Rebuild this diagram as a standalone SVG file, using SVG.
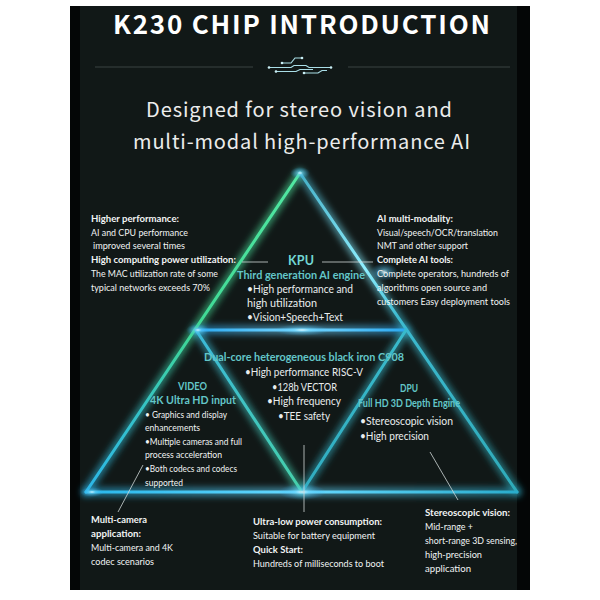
<svg xmlns="http://www.w3.org/2000/svg" width="600" height="600" viewBox="0 0 600 600">
<defs>
<style>
text{font-family:Lato,"Noto Sans","DejaVu Sans",sans-serif;}
.h{font-family:"Noto Sans CJK SC","Noto Sans",sans-serif;}
.s{font-size:10px;fill:#f2f4f4;}
.b{font-weight:bold;}
.w{font-size:10.5px;fill:#e9eded;}
.tl{font-weight:bold;fill:#63c6c8;font-size:10.5px;}
.lead{stroke:#d0d8d8;stroke-width:0.8;fill:none;}
.rule{stroke:#3b4242;stroke-width:1.2;}
.halo{fill:none;stroke-width:9;stroke-linecap:round;opacity:0.55;}
.core{fill:none;stroke-width:3;stroke-linecap:round;}
.trace{fill:none;stroke:#a9dde6;stroke-width:1.2;}
.dot{fill:#c9eef5;}
</style>
<filter id="blur" filterUnits="userSpaceOnUse" x="0" y="0" width="600" height="600">
<feGaussianBlur stdDeviation="3"/>
</filter>
<filter id="soft" filterUnits="userSpaceOnUse" x="0" y="0" width="600" height="600">
<feGaussianBlur stdDeviation="0.5"/>
</filter>
<linearGradient id="gL" gradientUnits="userSpaceOnUse" x1="300" y1="173" x2="86" y2="492">
<stop offset="0" stop-color="#52e8a2"/><stop offset="0.5" stop-color="#3fd894"/><stop offset="0.75" stop-color="#35c2c8"/><stop offset="1" stop-color="#2cb6e8"/>
</linearGradient>
<linearGradient id="gR" gradientUnits="userSpaceOnUse" x1="300" y1="173" x2="517" y2="492">
<stop offset="0" stop-color="#43aec6"/><stop offset="0.3" stop-color="#8fefff"/><stop offset="0.45" stop-color="#3dbad0"/><stop offset="1" stop-color="#2eaab8"/>
</linearGradient>
<linearGradient id="gH" gradientUnits="userSpaceOnUse" x1="196" y1="0" x2="406" y2="0">
<stop offset="0" stop-color="#2aa8f0"/><stop offset="0.5" stop-color="#7ad9ff"/><stop offset="1" stop-color="#2aa8f0"/>
</linearGradient>
<linearGradient id="gB" gradientUnits="userSpaceOnUse" x1="86" y1="0" x2="517" y2="0">
<stop offset="0" stop-color="#28b6ea"/><stop offset="0.5" stop-color="#66d9ff"/><stop offset="1" stop-color="#2aaccc"/>
</linearGradient>
<linearGradient id="gIL" gradientUnits="userSpaceOnUse" x1="196" y1="330" x2="302" y2="492">
<stop offset="0" stop-color="#3ab8da"/><stop offset="1" stop-color="#46d0a8"/>
</linearGradient>
<linearGradient id="gIR" gradientUnits="userSpaceOnUse" x1="406" y1="330" x2="302" y2="492">
<stop offset="0" stop-color="#39bacb"/><stop offset="1" stop-color="#30acc0"/>
</linearGradient>
<radialGradient id="flare">
<stop offset="0" stop-color="#e8fbff" stop-opacity="0.9"/><stop offset="0.3" stop-color="#6fd8ff" stop-opacity="0.5"/><stop offset="1" stop-color="#2aa6ea" stop-opacity="0"/>
</radialGradient>
</defs>

<rect x="0" y="0" width="600" height="600" fill="#ffffff"/>
<rect x="70" y="6" width="460" height="584" fill="#040606"/>
<rect x="80" y="6" width="437" height="584" fill="#111817"/>

<g id="title">
<text class="h" x="113" y="34" textLength="377" font-size="26" font-weight="bold" fill="#ffffff">K230 CHIP INTRODUCTION</text>
</g>

<g id="divider">
<line class="rule" x1="95" y1="67" x2="253" y2="67"/>
<line class="rule" x1="348" y1="67" x2="510" y2="67"/>
<path class="trace" d="M282,63 H291 L295,58 H302"/>
<path class="trace" d="M269,67.5 H291 L294,65.5 H306 L309,67.5 H331"/>
<path class="trace" d="M276,71.5 H296 L300,69.5 H313"/>
<path class="trace" d="M304,73 H318 L322,70.5 H327"/>
<circle class="dot" cx="302" cy="58" r="1.3"/>
<circle class="dot" cx="269" cy="67.5" r="1.3"/>
<circle class="dot" cx="331" cy="67.5" r="1.3"/>
<circle class="dot" cx="276" cy="71.5" r="1.3"/>
<circle class="dot" cx="304" cy="73" r="1.3"/>
<circle class="dot" cx="282" cy="63" r="1.3"/>
</g>

<g id="subtitle">
<text class="h" x="146" y="117" textLength="306" font-size="20" fill="#ececec">Designed for stereo vision and</text>
<text class="h" x="133" y="149" textLength="337" font-size="20" fill="#ececec">multi-modal high-performance AI</text>
</g>

<g id="triangle">
<g filter="url(#blur)">
<line class="halo" x1="300" y1="173" x2="86" y2="492" stroke="url(#gL)"/>
<line class="halo" x1="300" y1="173" x2="517" y2="492" stroke="url(#gR)"/>
<line class="halo" x1="196" y1="330" x2="406" y2="330" stroke="url(#gH)" stroke-width="11"/>
<line class="halo" x1="86" y1="492" x2="517" y2="492" stroke="url(#gB)" stroke-width="11"/>
<line class="halo" x1="196" y1="330" x2="302" y2="492" stroke="url(#gIL)"/>
<line class="halo" x1="406" y1="330" x2="302" y2="492" stroke="url(#gIR)"/>
</g>
<g filter="url(#soft)">
<line class="core" x1="300" y1="173" x2="86" y2="492" stroke="url(#gL)"/>
<line class="core" x1="300" y1="173" x2="517" y2="492" stroke="url(#gR)"/>
<line class="core" x1="196" y1="330" x2="406" y2="330" stroke="url(#gH)" stroke-width="3.8"/>
<line class="core" x1="86" y1="492" x2="517" y2="492" stroke="url(#gB)" stroke-width="3.8"/>
<line class="core" x1="196" y1="330" x2="302" y2="492" stroke="url(#gIL)"/>
<line class="core" x1="406" y1="330" x2="302" y2="492" stroke="url(#gIR)"/>
</g>
<ellipse cx="300" cy="173" rx="10" ry="6" fill="url(#flare)"/>
<ellipse cx="384" cy="272" rx="14" ry="9" fill="url(#flare)"/>
<ellipse cx="302" cy="330" rx="28" ry="6" fill="url(#flare)"/>
<ellipse cx="198" cy="330" rx="12" ry="6" fill="url(#flare)"/>
<ellipse cx="302" cy="492" rx="24" ry="8" fill="url(#flare)"/>
<ellipse cx="92" cy="492" rx="12" ry="5" fill="url(#flare)"/>
</g>

<g id="connectors">
<line class="lead" x1="242" y1="262" x2="268" y2="262"/>
<line class="lead" x1="322" y1="262" x2="373" y2="262"/>
<line class="lead" x1="143" y1="465" x2="118" y2="512"/>
<line class="lead" x1="304" y1="445" x2="304" y2="512"/>
<line class="lead" x1="430" y1="452" x2="458" y2="500"/>
</g>

<g id="note-performance">
<text class="s b" x="91" y="222" textLength="88" lengthAdjust="spacingAndGlyphs">Higher performance:</text>
<text class="s" x="91" y="236" textLength="97" lengthAdjust="spacingAndGlyphs">AI and CPU performance</text>
<text class="s" x="93" y="249" textLength="92" lengthAdjust="spacingAndGlyphs">improved several times</text>
<text class="s b" x="91" y="263" textLength="145" lengthAdjust="spacingAndGlyphs">High computing power utilization:</text>
<text class="s" x="91" y="277" textLength="127" lengthAdjust="spacingAndGlyphs">The MAC utilization rate of some</text>
<text class="s" x="91" y="291" textLength="119" lengthAdjust="spacingAndGlyphs">typical networks exceeds 70%</text>
</g>

<g id="note-multimodal">
<text class="s b" x="377" y="222" textLength="76" lengthAdjust="spacingAndGlyphs">AI multi-modality:</text>
<text class="s" x="377" y="236" textLength="121" lengthAdjust="spacingAndGlyphs">Visual/speech/OCR/translation</text>
<text class="s" x="377" y="249" textLength="91" lengthAdjust="spacingAndGlyphs">NMT and other support</text>
<text class="s b" x="377" y="263" textLength="76" lengthAdjust="spacingAndGlyphs">Complete AI tools:</text>
<text class="s" x="377" y="277" textLength="132" lengthAdjust="spacingAndGlyphs">Complete operators, hundreds of</text>
<text class="s" x="377" y="291" textLength="110" lengthAdjust="spacingAndGlyphs">algorithms open source and</text>
<text class="s" x="377" y="305" textLength="133" lengthAdjust="spacingAndGlyphs">customers Easy deployment tools</text>
</g>

<g id="kpu">
<text x="288" y="265" textLength="26" font-size="12.5" font-weight="bold" fill="#72d6d4">KPU</text>
<text class="tl" x="237" y="279" textLength="128" lengthAdjust="spacingAndGlyphs">Third generation AI engine</text>
<text class="w" x="247" y="293" textLength="106" lengthAdjust="spacingAndGlyphs">•High performance and</text>
<text class="w" x="247" y="307" textLength="70" lengthAdjust="spacingAndGlyphs">high utilization</text>
<text class="w" x="247" y="321" textLength="96" lengthAdjust="spacingAndGlyphs">•Vision+Speech+Text</text>
</g>

<g id="c908">
<text class="tl" x="204" y="361" textLength="200" lengthAdjust="spacingAndGlyphs">Dual-core heterogeneous black iron C908</text>
<text class="w" x="245" y="376" textLength="118" lengthAdjust="spacingAndGlyphs">•High performance RISC-V</text>
<text class="w" x="272" y="391" textLength="65" lengthAdjust="spacingAndGlyphs">•128b VECTOR</text>
<text class="w" x="267" y="405" textLength="74" lengthAdjust="spacingAndGlyphs">•High frequency</text>
<text class="w" x="278" y="420" textLength="52" lengthAdjust="spacingAndGlyphs">•TEE safety</text>
</g>

<g id="video">
<text class="tl" x="178" y="390" textLength="29" lengthAdjust="spacingAndGlyphs">VIDEO</text>
<text class="tl" x="150" y="404" textLength="86" lengthAdjust="spacingAndGlyphs">4K Ultra HD input</text>
<text class="s" x="145" y="418" textLength="82" lengthAdjust="spacingAndGlyphs">• Graphics and display</text>
<text class="s" x="145" y="431" textLength="55" lengthAdjust="spacingAndGlyphs">enhancements</text>
<text class="s" x="145" y="445" textLength="97" lengthAdjust="spacingAndGlyphs">•Multiple cameras and full</text>
<text class="s" x="145" y="458" textLength="77" lengthAdjust="spacingAndGlyphs">process acceleration</text>
<text class="s" x="145" y="472" textLength="92" lengthAdjust="spacingAndGlyphs">•Both codecs and codecs</text>
<text class="s" x="145" y="486" textLength="38" lengthAdjust="spacingAndGlyphs">supported</text>
</g>

<g id="dpu">
<text class="tl" x="400" y="392" textLength="18" lengthAdjust="spacingAndGlyphs">DPU</text>
<text class="tl" x="358" y="407" textLength="102" lengthAdjust="spacingAndGlyphs">Full HD 3D Depth Engine</text>
<text class="w" x="360" y="425" textLength="93" lengthAdjust="spacingAndGlyphs">•Stereoscopic vision</text>
<text class="w" x="360" y="440" textLength="69" lengthAdjust="spacingAndGlyphs">•High precision</text>
</g>

<g id="note-multicamera">
<text class="s b" x="91" y="523" textLength="56" lengthAdjust="spacingAndGlyphs">Multi-camera</text>
<text class="s b" x="91" y="537" textLength="50" lengthAdjust="spacingAndGlyphs">application:</text>
<text class="s" x="91" y="551" textLength="82" lengthAdjust="spacingAndGlyphs">Multi-camera and 4K</text>
<text class="s" x="91" y="565" textLength="63" lengthAdjust="spacingAndGlyphs">codec scenarios</text>
</g>

<g id="note-power">
<text class="s b" x="253" y="525" textLength="129" lengthAdjust="spacingAndGlyphs">Ultra-low power consumption:</text>
<text class="s" x="253" y="539" textLength="122" lengthAdjust="spacingAndGlyphs">Suitable for battery equipment</text>
<text class="s b" x="253" y="553" textLength="50" lengthAdjust="spacingAndGlyphs">Quick Start:</text>
<text class="s" x="253" y="567" textLength="131" lengthAdjust="spacingAndGlyphs">Hundreds of milliseconds to boot</text>
</g>

<g id="note-stereo">
<text class="s b" x="425" y="516" textLength="85" lengthAdjust="spacingAndGlyphs">Stereoscopic vision:</text>
<text class="s" x="425" y="530" textLength="48" lengthAdjust="spacingAndGlyphs">Mid-range +</text>
<text class="s" x="425" y="544" textLength="92" lengthAdjust="spacingAndGlyphs">short-range 3D sensing,</text>
<text class="s" x="425" y="558" textLength="57" lengthAdjust="spacingAndGlyphs">high-precision</text>
<text class="s" x="425" y="572" textLength="46" lengthAdjust="spacingAndGlyphs">application</text>
</g>
</svg>
